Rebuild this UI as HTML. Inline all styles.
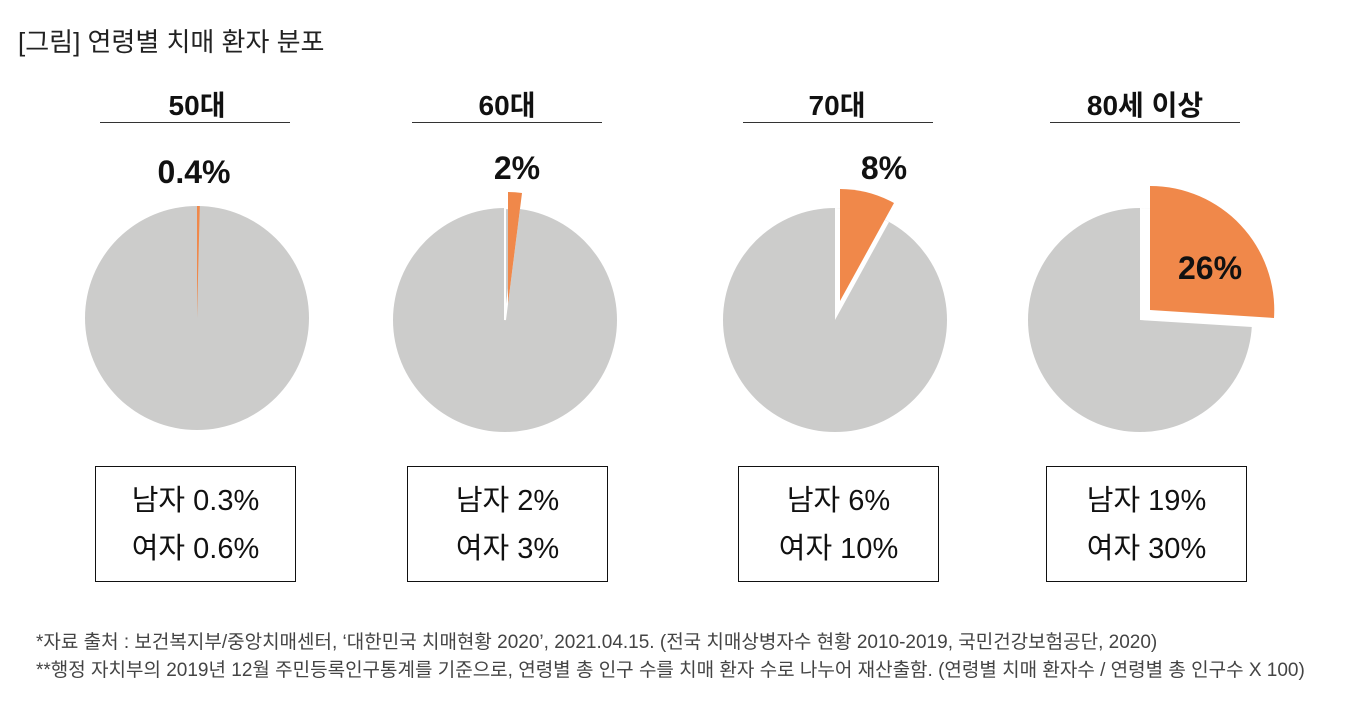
<!DOCTYPE html>
<html><head><meta charset="utf-8"><style>
body{margin:0;background:#fff;width:1358px;height:706px;overflow:hidden;font-family:"Liberation Sans","Noto Sans CJK KR",sans-serif;}
.t{position:absolute;white-space:nowrap}
.h{font-size:28px;font-weight:bold;color:#111;text-align:center;width:200px}
.u{position:absolute;height:1px;background:#333;top:122px;width:190px}
.box{position:absolute;top:466px;width:201px;height:116px;border:1.5px solid #111;font-size:29px;color:#111;text-align:center;line-height:48px;padding-top:10px;box-sizing:border-box}
.p{font-size:32px;font-weight:bold;color:#111;text-align:center;width:120px}
.f{font-size:19px;color:#444}
</style></head><body>
<div class="t" style="left:18px;top:22px;font-size:26px;color:#222">[그림] 연령별 치매 환자 분포</div>
<div class="t h" style="left:97px;top:84px">50대</div><div class="u" style="left:100px"></div>
<div class="t h" style="left:407px;top:84px">60대</div><div class="u" style="left:412px"></div>
<div class="t h" style="left:737px;top:84px">70대</div><div class="u" style="left:743px"></div>
<div class="t h" style="left:1045px;top:84px">80세 이상</div><div class="u" style="left:1050px"></div>
<svg width="1358" height="706" style="position:absolute;left:0;top:0">
<circle cx="197" cy="318" r="112" fill="#cccccb"/>
<path d="M197,318 L197,206 A112,112 0 0 1 199.8,206 Z" fill="#f0884a"/>
<circle cx="505" cy="320" r="112" fill="#cccccb"/>
<path d="M505,320 L505,208 A112,112 0 0 1 519,209 Z" fill="#cccccb" stroke="#fff" stroke-width="2"/>
<path d="M508,304 L508,192 A112,112 0 0 1 522,193 Z" fill="#f0884a"/>
<circle cx="835" cy="320" r="112" fill="#cccccb"/>
<path d="M835,320 L835,208 A112,112 0 0 1 889,222 Z" fill="#fff"/>
<path d="M840,301 L840,189 A112,112 0 0 1 894,203 Z" fill="#f0884a"/>
<circle cx="1140" cy="320" r="112" fill="#cccccb"/>
<path d="M1140,320 L1140,208 A112,112 0 0 1 1252,327 Z" fill="#fff"/>
<path d="M1150,310 L1150,186 A124,124 0 0 1 1274,318 Z" fill="#f0884a"/>
</svg>
<div class="t p" style="left:134px;top:154px">0.4%</div>
<div class="t p" style="left:457px;top:150px">2%</div>
<div class="t p" style="left:824px;top:150px">8%</div>
<div class="t p" style="left:1150px;top:250px">26%</div>
<div class="box" style="left:95px">남자 0.3%<br>여자 0.6%</div>
<div class="box" style="left:407px">남자 2%<br>여자 3%</div>
<div class="box" style="left:738px">남자 6%<br>여자 10%</div>
<div class="box" style="left:1046px">남자 19%<br>여자 30%</div>
<div class="t f" style="left:36px;top:627px">*자료 출처 : 보건복지부/중앙치매센터, ‘대한민국 치매현황 2020’, 2021.04.15. (전국 치매상병자수 현황 2010-2019, 국민건강보험공단, 2020)</div>
<div class="t f" style="left:36px;top:655px">**행정 자치부의 2019년 12월 주민등록인구통계를 기준으로, 연령별 총 인구 수를 치매 환자 수로 나누어 재산출함. (연령별 치매 환자수 / 연령별 총 인구수 X 100)</div>
</body></html>
